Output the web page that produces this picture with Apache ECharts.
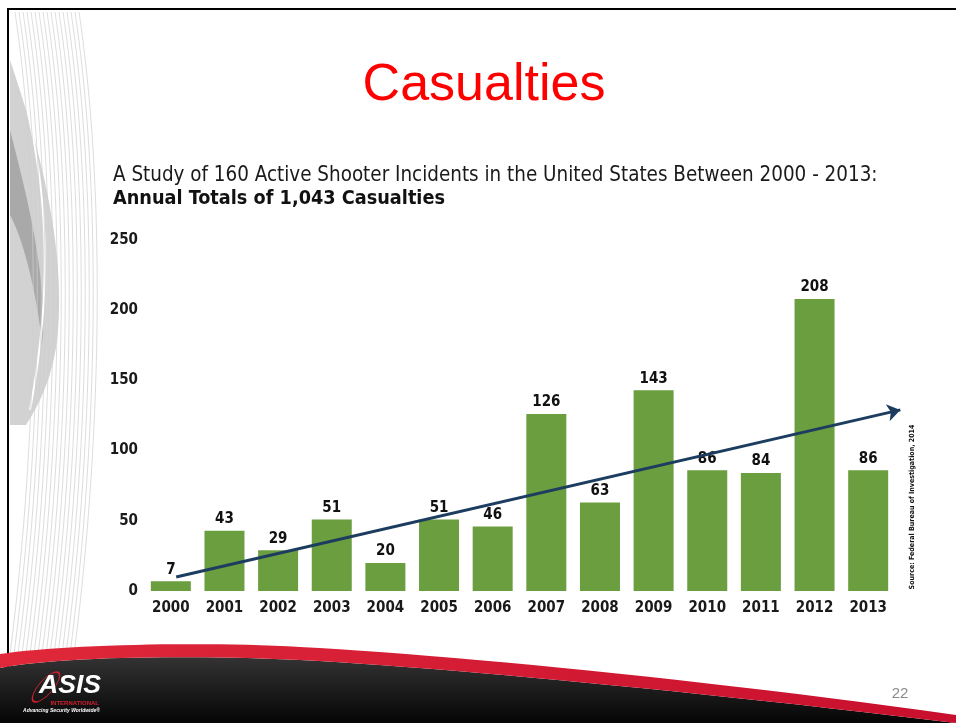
<!DOCTYPE html>
<html><head><meta charset="utf-8">
<script src="https://cdn.jsdelivr.net/npm/echarts@6/dist/echarts.min.js"></script>
<style>html,body{margin:0;padding:0;background:#fff;overflow:hidden}#c{width:956px;height:723px}</style>
</head><body><div id="c"></div>
<script>
// ---------- data ----------
const years = ['2000','2001','2002','2003','2004','2005','2006','2007','2008','2009','2010','2011','2012','2013'];
const casualties = [7, 43, 29, 51, 20, 51, 46, 126, 63, 143, 86, 84, 208, 86];
const yMin = 0, yMax = 250, yStep = 50;
const trendX = [0.1, 13.6];   // position along the year axis (index units)
const trendY = [10, 129];     // casualties
const titleText = 'Casualties';
const subtitleLine1 = 'A Study of 160 Active Shooter Incidents in the United States Between 2000 - 2013:';
const subtitleLine2 = 'Annual Totals of 1,043 Casualties';
const sourceText = 'Source: Federal Bureau of Investigation, 2014';
const pageNumber = '22';
const logoText = 'ASIS';
const logoSub = 'INTERNATIONAL';
const logoTag = 'Advancing Security Worldwide\u00AE';

// ---------- styling helpers ----------
const COND = "'Liberation Sans Narrow','DejaVu Sans Condensed','Arial Narrow','Open Sans',sans-serif";
const SANS = "'Liberation Sans',Arial,sans-serif";
function fitSize(text, weight, family, width) {
  const ctx = document.createElement('canvas').getContext('2d');
  ctx.font = weight + ' 100px ' + family;
  return 100 * width / ctx.measureText(text).width;
}
const sub1Size = fitSize(subtitleLine1, 'normal', COND, 765);
const sub2Size = fitSize(subtitleLine2, 'bold', COND, 332);
const srcSize = fitSize(sourceText, 'bold', COND, 165);
const logoSize = fitSize(logoText, 'italic bold', SANS, 62);

// sample a chain of cubic bezier segments: start point + list of [c1, c2, end]
function bez(start, segs, n) {
  n = n || 24;
  const pts = [start.slice()];
  let p0 = start;
  segs.forEach(function (s) {
    const c1 = s[0], c2 = s[1], p3 = s[2];
    for (let i = 1; i <= n; i++) {
      const t = i / n, u = 1 - t;
      pts.push([
        u*u*u*p0[0] + 3*u*u*t*c1[0] + 3*u*t*t*c2[0] + t*t*t*p3[0],
        u*u*u*p0[1] + 3*u*u*t*c1[1] + 3*u*t*t*c2[1] + t*t*t*p3[1]
      ]);
    }
    p0 = p3;
  });
  return pts;
}

// decorative thin lines on the left edge
const leftLines = [];
for (let i = 0; i < 17; i++) {
  const x0 = 15 + 4 * i;
  leftLines.push({
    type: 'polyline', silent: true, z: 0,
    shape: { points: bez([x0, 12], [[[x0 + 28, 200], [x0 + 22, 450], [x0 - 6, 662]]], 40) },
    style: { fill: null, stroke: '#cfcfcf', lineWidth: 0.7 }
  });
}
const swooshLight = bez([10, 60], [[[30, 120], [66, 230], [58, 330]], [[55, 370], [42, 400], [26, 425]]]).concat([[10, 425]]);
const swooshDark = bez([10, 130], [[[28, 200], [48, 280], [42, 345]], [[38, 300], [24, 240], [10, 215]]]);
const swooshWhite = bez([17, 70], [[[42, 160], [58, 260], [30, 410]]], 40);
const darkArea = bez([0, 668], [[[60, 656], [200, 655], [300, 660]], [[450, 668], [700, 692], [956, 723]]]).concat([[0, 723]]);
const redTop = bez([0, 654], [[[60, 645], [200, 641], [300, 647]], [[450, 655], [700, 679], [956, 715]]]);
const redBottom = bez([0, 668], [[[60, 656], [200, 655], [300, 660]], [[450, 668], [700, 692], [956, 723]]]).reverse();
const redBand = redTop.concat(redBottom);

const chart = echarts.init(document.getElementById('c'), null, { renderer: 'canvas' });
chart.setOption({
  animation: false,
  backgroundColor: '#ffffff',
  grid: { left: 144, right: 61, top: 240, bottom: 132 },
  xAxis: [
    {
      type: 'category', data: years,
      axisLine: { show: false }, axisTick: { show: false },
      axisLabel: { margin: 10, fontSize: 15, fontWeight: 'bold', color: '#1a1a1a', fontFamily: COND }
    },
    { type: 'value', min: -0.5, max: 13.5, show: false }
  ],
  yAxis: {
    type: 'value', min: yMin, max: yMax, interval: yStep,
    splitLine: { show: false }, axisLine: { show: false }, axisTick: { show: false },
    axisLabel: { margin: 6, fontSize: 15, fontWeight: 'bold', color: '#1a1a1a', fontFamily: COND }
  },
  series: [
    {
      type: 'bar', data: casualties, barWidth: 40, xAxisIndex: 0,
      itemStyle: { color: '#6a9e3f' },
      label: { show: true, position: 'top', distance: 4, fontSize: 15, fontWeight: 'bold', color: '#111', fontFamily: COND }
    },
    {
      type: 'lines', coordinateSystem: 'cartesian2d', xAxisIndex: 1, yAxisIndex: 0,
      clip: false, silent: true, z: 5,
      symbol: ['none', 'arrow'], symbolSize: 13,
      lineStyle: { color: '#1c3d5f', width: 3, opacity: 1, curveness: 0 },
      data: [{ coords: [[trendX[0], trendY[0]], [trendX[1], trendY[1]]] }]
    }
  ],
  graphic: [
    { type: 'polygon', silent: true, z: 0, shape: { points: swooshLight }, style: { fill: '#d2d2d2' } },
    { type: 'polygon', silent: true, z: 0, shape: { points: swooshDark }, style: { fill: '#a9a9a9' } },
    { type: 'polyline', silent: true, z: 0, shape: { points: swooshWhite }, style: { fill: null, stroke: '#ffffff', lineWidth: 2 } }
  ].concat(leftLines).concat([
    { type: 'line', silent: true, z: 1, shape: { x1: 7, y1: 9, x2: 956, y2: 9 }, style: { stroke: '#000', lineWidth: 2 } },
    { type: 'line', silent: true, z: 1, shape: { x1: 8, y1: 9, x2: 8, y2: 723 }, style: { stroke: '#000', lineWidth: 2 } },
    { type: 'polygon', silent: true, z: 1, shape: { points: darkArea },
      style: { fill: new echarts.graphic.LinearGradient(0, 0, 0, 1, [{ offset: 0, color: '#333333' }, { offset: 1, color: '#050505' }]) } },
    { type: 'polygon', silent: true, z: 2, shape: { points: redBand },
      style: { fill: new echarts.graphic.LinearGradient(0, 0, 1, 0, [{ offset: 0, color: '#e0283a' }, { offset: 1, color: '#c8102e' }]) } },
    { type: 'circle', silent: true, z: 3, x: 46, y: 687, rotation: 0.85, scaleX: 1, scaleY: 0.37,
      shape: { cx: 0, cy: 0, r: 19 }, style: { fill: null, stroke: '#d0202e', lineWidth: 1.2, strokeNoScale: true } },
    { type: 'text', silent: true, z: 4, style: { text: logoText, x: 39, y: 686, font: 'italic bold ' + logoSize.toFixed(2) + 'px ' + SANS, fill: '#ffffff', align: 'left', verticalAlign: 'middle' } },
    { type: 'text', silent: true, z: 4, style: { text: logoSub, x: 99, y: 703, font: 'bold 6px ' + SANS, fill: '#d0202e', align: 'right', verticalAlign: 'middle' } },
    { type: 'text', silent: true, z: 4, style: { text: logoTag, x: 100, y: 711, font: 'italic bold 5px ' + SANS, fill: '#ffffff', align: 'right', verticalAlign: 'middle' } },
    { type: 'text', silent: true, z: 4, style: { text: pageNumber, x: 900, y: 694, font: '15px ' + SANS, fill: '#8a8a8a', align: 'center', verticalAlign: 'middle' } },
    { type: 'text', silent: true, z: 4, style: { text: titleText, x: 484, y: 86, font: '52px ' + SANS, fill: '#ff0000', align: 'center', verticalAlign: 'middle' } },
    { type: 'text', silent: true, z: 4, style: { text: subtitleLine1, x: 113, y: 182 - 0.32 * sub1Size, font: sub1Size.toFixed(2) + 'px ' + COND, fill: '#1a1a1a', align: 'left', verticalAlign: 'middle' } },
    { type: 'text', silent: true, z: 4, style: { text: subtitleLine2, x: 113, y: 205 - 0.32 * sub2Size, font: 'bold ' + sub2Size.toFixed(2) + 'px ' + COND, fill: '#111', align: 'left', verticalAlign: 'middle' } },
    { type: 'text', silent: true, z: 4, x: 912, y: 507, rotation: Math.PI / 2,
      style: { text: sourceText, x: 0, y: 0, font: 'bold ' + srcSize.toFixed(2) + 'px ' + COND, fill: '#111', align: 'center', verticalAlign: 'middle' } }
  ])
});
</script>
</body></html>
